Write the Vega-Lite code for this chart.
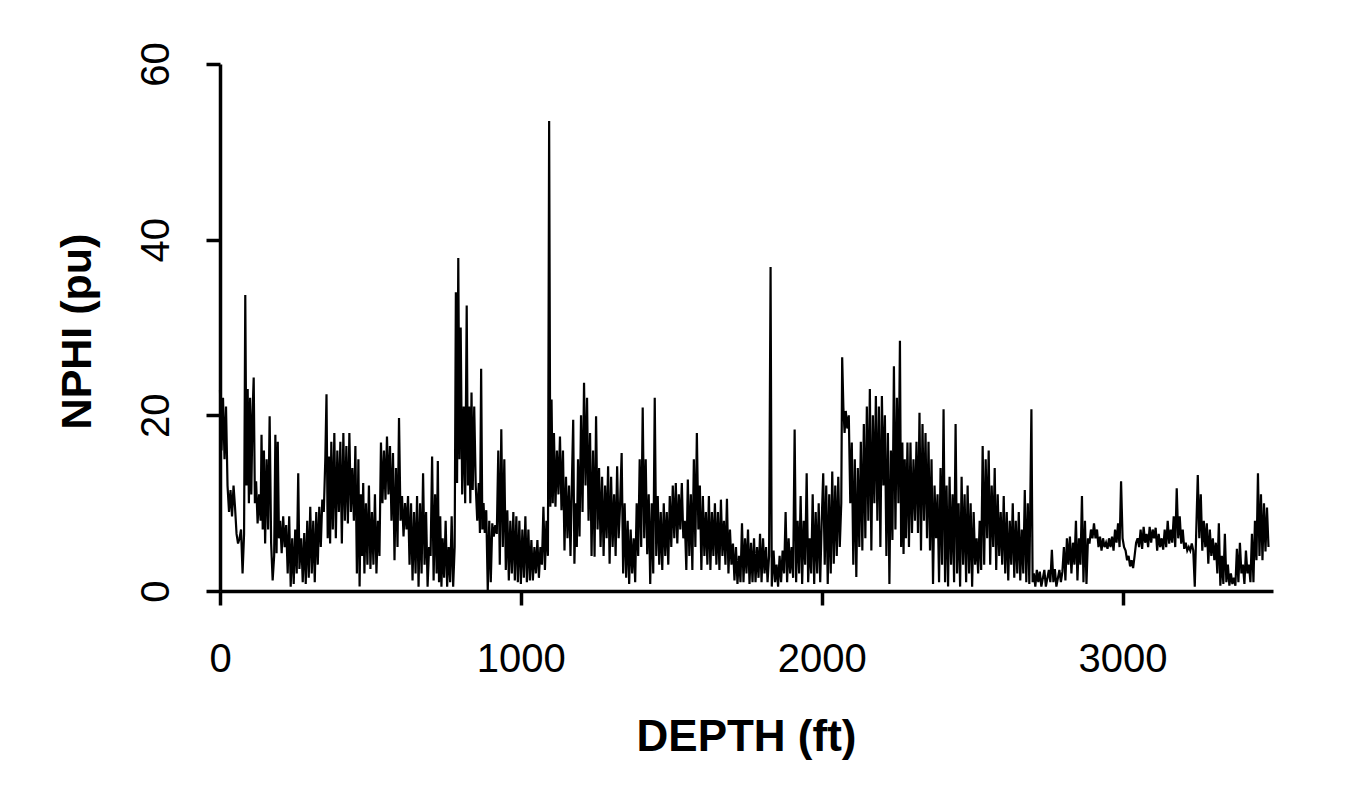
{
  "$schema": "https://vega.github.io/schema/vega-lite/v6.json",
  "autosize": "none",
  "width": 1053,
  "height": 527,
  "padding": {"left": 220, "top": 64, "right": 81, "bottom": 212},
  "background": "white",
  "config": {
    "view": {"stroke": null},
    "font": "Liberation Sans",
    "axis": {
      "grid": false,
      "domainColor": "black",
      "domainWidth": 3.5,
      "tickColor": "black",
      "tickWidth": 3.5,
      "tickSize": 14,
      "labelColor": "black",
      "labelFont": "Liberation Sans",
      "labelFontSize": 40,
      "labelFontWeight": "normal",
      "labelOverlap": false,
      "labelFlush": false,
      "format": "d",
      "titleColor": "black",
      "titleFont": "Liberation Sans",
      "titleFontWeight": "bold"
    }
  },
  "data": {"values": [
{"d":0,"n":22.9},{"d":5,"n":16},{"d":10,"n":22},{"d":15,"n":15},{"d":20,"n":21},{"d":25,"n":12},{"d":30,"n":9},{"d":35,"n":11.5},{"d":40,"n":8.5},{"d":45,"n":12},{"d":50,"n":9.5},{"d":55,"n":6.5},{"d":60,"n":5.4},{"d":65,"n":6},{"d":70,"n":7},{"d":75,"n":2},{"d":80,"n":6.5},{"d":84,"n":33.7},{"d":88,"n":12},{"d":92,"n":23},{"d":96,"n":10},{"d":100,"n":22},{"d":104,"n":11},{"d":108,"n":20},{"d":112,"n":24.3},{"d":116,"n":10},{"d":120,"n":12.5},{"d":125,"n":7.7},{"d":130,"n":11},{"d":135,"n":8},{"d":138,"n":17.8},{"d":142,"n":7},{"d":146,"n":16},{"d":150,"n":5.4},{"d":155,"n":15},{"d":160,"n":7},{"d":165,"n":19.9},{"d":170,"n":5.4},{"d":175,"n":1.2},{"d":180,"n":4},{"d":184,"n":17.8},{"d":188,"n":4.3},{"d":192,"n":17},{"d":196,"n":6},{"d":200,"n":8},{"d":205,"n":4.3},{"d":210,"n":8.5},{"d":215,"n":5},{"d":220,"n":7.5},{"d":225,"n":2},{"d":230,"n":8.5},{"d":235,"n":0.5},{"d":240,"n":6},{"d":245,"n":0.8},{"d":250,"n":7},{"d":255,"n":2},{"d":260,"n":13.4},{"d":264,"n":2.5},{"d":270,"n":6},{"d":275,"n":1},{"d":280,"n":6.6},{"d":285,"n":0.8},{"d":290,"n":8},{"d":295,"n":1.5},{"d":300,"n":9.6},{"d":305,"n":2},{"d":310,"n":8},{"d":315,"n":1},{"d":320,"n":9},{"d":325,"n":3},{"d":330,"n":9.6},{"d":335,"n":5},{"d":340,"n":10.4},{"d":345,"n":9},{"d":350,"n":15},{"d":354,"n":22.4},{"d":358,"n":6},{"d":362,"n":15.3},{"d":366,"n":5.4},{"d":370,"n":17},{"d":375,"n":7},{"d":380,"n":18},{"d":385,"n":6},{"d":390,"n":16},{"d":395,"n":9},{"d":400,"n":17},{"d":405,"n":5.4},{"d":410,"n":18},{"d":415,"n":8},{"d":420,"n":16.5},{"d":425,"n":7.7},{"d":430,"n":18},{"d":435,"n":9},{"d":440,"n":14},{"d":445,"n":8},{"d":450,"n":16.5},{"d":455,"n":2},{"d":460,"n":15},{"d":464,"n":0.5},{"d":468,"n":11},{"d":472,"n":4},{"d":476,"n":12.3},{"d":480,"n":2},{"d":485,"n":10},{"d":490,"n":3},{"d":495,"n":12},{"d":500,"n":2.5},{"d":505,"n":9},{"d":510,"n":3},{"d":515,"n":11},{"d":520,"n":2},{"d":525,"n":8},{"d":530,"n":4},{"d":535,"n":16.9},{"d":540,"n":10},{"d":545,"n":16},{"d":550,"n":10.4},{"d":555,"n":17.6},{"d":560,"n":11},{"d":565,"n":16.5},{"d":570,"n":8},{"d":575,"n":15.7},{"d":580,"n":3.5},{"d":585,"n":14},{"d":590,"n":5},{"d":595,"n":19.7},{"d":600,"n":8},{"d":605,"n":10.8},{"d":610,"n":6.2},{"d":615,"n":10},{"d":620,"n":7},{"d":625,"n":10.8},{"d":630,"n":3},{"d":635,"n":10},{"d":640,"n":1.2},{"d":645,"n":9},{"d":650,"n":2},{"d":655,"n":10.8},{"d":660,"n":0.5},{"d":665,"n":10},{"d":670,"n":2},{"d":675,"n":13.4},{"d":680,"n":3},{"d":685,"n":9},{"d":690,"n":0.5},{"d":695,"n":5},{"d":700,"n":4},{"d":705,"n":15.3},{"d":710,"n":1.2},{"d":715,"n":11},{"d":720,"n":2},{"d":724,"n":14.8},{"d":728,"n":1},{"d":732,"n":8.5},{"d":736,"n":0.5},{"d":740,"n":6},{"d":745,"n":1.5},{"d":750,"n":8},{"d":755,"n":0.5},{"d":760,"n":5},{"d":765,"n":1},{"d":770,"n":8.5},{"d":775,"n":0.5},{"d":780,"n":5},{"d":784,"n":34},{"d":788,"n":12.3},{"d":792,"n":37.9},{"d":796,"n":15},{"d":800,"n":30},{"d":805,"n":11},{"d":810,"n":21},{"d":815,"n":10},{"d":820,"n":32.5},{"d":824,"n":12},{"d":828,"n":21},{"d":832,"n":10},{"d":836,"n":22.6},{"d":840,"n":11.5},{"d":845,"n":21},{"d":850,"n":12},{"d":855,"n":8},{"d":860,"n":12.3},{"d":864,"n":6.6},{"d":868,"n":25.3},{"d":872,"n":7},{"d":876,"n":10},{"d":880,"n":6.6},{"d":885,"n":9.2},{"d":890,"n":0},{"d":895,"n":8},{"d":900,"n":1},{"d":905,"n":7.7},{"d":910,"n":6.2},{"d":915,"n":7.5},{"d":920,"n":6.5},{"d":925,"n":16},{"d":930,"n":3},{"d":935,"n":18.4},{"d":940,"n":5},{"d":945,"n":15},{"d":950,"n":2.4},{"d":955,"n":9.2},{"d":960,"n":1.2},{"d":965,"n":8},{"d":970,"n":2},{"d":975,"n":9},{"d":980,"n":1.2},{"d":985,"n":8.5},{"d":990,"n":1},{"d":995,"n":8},{"d":1000,"n":0.8},{"d":1005,"n":7},{"d":1010,"n":1.5},{"d":1015,"n":8.5},{"d":1020,"n":1},{"d":1025,"n":7},{"d":1030,"n":1.2},{"d":1035,"n":5.8},{"d":1040,"n":1.2},{"d":1045,"n":5},{"d":1050,"n":2},{"d":1055,"n":5.8},{"d":1060,"n":1.5},{"d":1065,"n":5},{"d":1070,"n":3},{"d":1075,"n":9.6},{"d":1080,"n":2.4},{"d":1085,"n":8},{"d":1090,"n":4},{"d":1094,"n":53.5},{"d":1098,"n":9.6},{"d":1102,"n":21.8},{"d":1106,"n":10},{"d":1110,"n":18},{"d":1115,"n":9.6},{"d":1120,"n":16},{"d":1125,"n":11},{"d":1130,"n":17.6},{"d":1135,"n":9.2},{"d":1140,"n":16},{"d":1145,"n":4.6},{"d":1150,"n":13},{"d":1155,"n":6},{"d":1160,"n":12},{"d":1165,"n":4},{"d":1170,"n":13},{"d":1174,"n":19.5},{"d":1178,"n":3.1},{"d":1182,"n":10},{"d":1186,"n":5},{"d":1190,"n":15},{"d":1195,"n":6.2},{"d":1200,"n":20},{"d":1205,"n":9},{"d":1210,"n":23.7},{"d":1215,"n":12},{"d":1220,"n":22},{"d":1225,"n":8},{"d":1230,"n":18},{"d":1235,"n":4},{"d":1240,"n":16},{"d":1245,"n":3.9},{"d":1250,"n":19.9},{"d":1255,"n":7},{"d":1260,"n":14},{"d":1265,"n":5},{"d":1270,"n":13},{"d":1275,"n":4},{"d":1280,"n":12},{"d":1285,"n":6},{"d":1290,"n":14.2},{"d":1295,"n":3.1},{"d":1300,"n":13},{"d":1305,"n":5},{"d":1310,"n":11},{"d":1315,"n":4},{"d":1320,"n":14.2},{"d":1325,"n":6},{"d":1330,"n":10},{"d":1335,"n":15.7},{"d":1340,"n":2},{"d":1345,"n":10},{"d":1350,"n":1.5},{"d":1355,"n":8},{"d":1360,"n":0.8},{"d":1365,"n":7},{"d":1370,"n":2},{"d":1375,"n":6},{"d":1380,"n":1},{"d":1385,"n":10},{"d":1390,"n":4},{"d":1395,"n":15},{"d":1400,"n":5},{"d":1405,"n":20.9},{"d":1410,"n":6},{"d":1415,"n":15},{"d":1420,"n":4.2},{"d":1425,"n":11},{"d":1430,"n":0.8},{"d":1435,"n":10},{"d":1440,"n":2},{"d":1445,"n":22},{"d":1450,"n":4},{"d":1455,"n":10.8},{"d":1460,"n":3},{"d":1465,"n":9},{"d":1470,"n":2.4},{"d":1475,"n":10},{"d":1480,"n":4},{"d":1485,"n":9},{"d":1490,"n":3},{"d":1495,"n":10.8},{"d":1500,"n":5},{"d":1505,"n":12},{"d":1510,"n":6},{"d":1515,"n":12.3},{"d":1520,"n":5.4},{"d":1525,"n":11},{"d":1530,"n":7},{"d":1535,"n":12.3},{"d":1540,"n":6},{"d":1545,"n":8},{"d":1550,"n":2.4},{"d":1555,"n":12.7},{"d":1560,"n":4},{"d":1565,"n":11},{"d":1570,"n":2.4},{"d":1575,"n":15},{"d":1580,"n":5},{"d":1585,"n":18},{"d":1590,"n":7},{"d":1595,"n":12},{"d":1600,"n":2.4},{"d":1605,"n":10.8},{"d":1610,"n":4},{"d":1615,"n":9},{"d":1620,"n":3},{"d":1625,"n":10.8},{"d":1630,"n":2.4},{"d":1635,"n":9},{"d":1640,"n":4},{"d":1645,"n":10},{"d":1650,"n":3},{"d":1655,"n":9},{"d":1660,"n":2.4},{"d":1665,"n":10.4},{"d":1670,"n":4},{"d":1675,"n":8},{"d":1680,"n":3},{"d":1685,"n":10.5},{"d":1690,"n":2},{"d":1695,"n":7},{"d":1700,"n":3},{"d":1705,"n":5.4},{"d":1710,"n":1.2},{"d":1715,"n":5},{"d":1720,"n":0.8},{"d":1725,"n":4},{"d":1730,"n":1},{"d":1735,"n":7.7},{"d":1740,"n":1},{"d":1745,"n":6},{"d":1750,"n":2},{"d":1755,"n":7},{"d":1760,"n":0.8},{"d":1765,"n":5.5},{"d":1770,"n":1},{"d":1775,"n":6},{"d":1780,"n":1},{"d":1785,"n":5},{"d":1790,"n":1.5},{"d":1795,"n":6.5},{"d":1800,"n":1},{"d":1805,"n":6},{"d":1810,"n":2},{"d":1815,"n":5},{"d":1820,"n":1},{"d":1825,"n":4},{"d":1830,"n":36.9},{"d":1834,"n":0.5},{"d":1840,"n":4.6},{"d":1845,"n":1},{"d":1850,"n":3},{"d":1855,"n":0.5},{"d":1860,"n":4},{"d":1865,"n":1},{"d":1870,"n":4.6},{"d":1875,"n":2},{"d":1880,"n":9},{"d":1885,"n":1},{"d":1890,"n":6},{"d":1895,"n":2},{"d":1900,"n":5},{"d":1905,"n":1.5},{"d":1910,"n":18.4},{"d":1915,"n":1},{"d":1920,"n":8},{"d":1925,"n":2},{"d":1930,"n":10.8},{"d":1935,"n":0.8},{"d":1940,"n":8},{"d":1945,"n":3},{"d":1950,"n":13.4},{"d":1955,"n":1},{"d":1960,"n":6},{"d":1965,"n":2},{"d":1970,"n":11},{"d":1975,"n":0.8},{"d":1980,"n":9},{"d":1985,"n":2},{"d":1990,"n":10},{"d":1995,"n":1},{"d":2000,"n":8},{"d":2005,"n":13.4},{"d":2010,"n":3},{"d":2015,"n":12},{"d":2020,"n":0.8},{"d":2025,"n":11},{"d":2030,"n":2},{"d":2035,"n":13.6},{"d":2040,"n":3.1},{"d":2045,"n":12},{"d":2050,"n":4},{"d":2055,"n":13},{"d":2060,"n":5},{"d":2065,"n":10},{"d":2068,"n":26.6},{"d":2072,"n":20.9},{"d":2076,"n":18},{"d":2080,"n":20.5},{"d":2085,"n":18.5},{"d":2090,"n":20},{"d":2095,"n":10},{"d":2100,"n":16.9},{"d":2105,"n":3},{"d":2110,"n":15},{"d":2115,"n":1.6},{"d":2120,"n":14},{"d":2125,"n":5},{"d":2130,"n":17},{"d":2135,"n":4.6},{"d":2140,"n":19},{"d":2145,"n":6},{"d":2150,"n":21},{"d":2155,"n":8},{"d":2160,"n":23},{"d":2165,"n":4.6},{"d":2170,"n":20},{"d":2175,"n":10},{"d":2180,"n":22.2},{"d":2185,"n":8},{"d":2190,"n":21},{"d":2195,"n":5},{"d":2200,"n":22.2},{"d":2205,"n":12},{"d":2210,"n":20},{"d":2215,"n":4},{"d":2220,"n":18},{"d":2225,"n":0.8},{"d":2230,"n":16},{"d":2235,"n":5.8},{"d":2240,"n":25.6},{"d":2245,"n":7},{"d":2250,"n":22},{"d":2255,"n":10},{"d":2260,"n":28.5},{"d":2264,"n":5},{"d":2268,"n":16.9},{"d":2272,"n":4.2},{"d":2276,"n":15},{"d":2280,"n":6},{"d":2285,"n":16.9},{"d":2290,"n":5},{"d":2295,"n":16.9},{"d":2300,"n":6.6},{"d":2305,"n":15},{"d":2310,"n":8},{"d":2315,"n":17},{"d":2320,"n":6.6},{"d":2325,"n":20.3},{"d":2330,"n":4.6},{"d":2335,"n":19},{"d":2340,"n":8},{"d":2345,"n":18},{"d":2350,"n":6},{"d":2355,"n":17},{"d":2360,"n":4.6},{"d":2365,"n":15},{"d":2370,"n":0.8},{"d":2375,"n":12},{"d":2380,"n":6},{"d":2385,"n":11},{"d":2390,"n":1},{"d":2395,"n":14},{"d":2400,"n":3},{"d":2405,"n":20.7},{"d":2410,"n":1},{"d":2415,"n":12},{"d":2420,"n":0.5},{"d":2425,"n":13},{"d":2430,"n":3},{"d":2435,"n":11},{"d":2440,"n":1},{"d":2445,"n":19},{"d":2450,"n":2},{"d":2455,"n":10},{"d":2460,"n":0.5},{"d":2465,"n":13},{"d":2470,"n":3},{"d":2475,"n":11},{"d":2480,"n":1},{"d":2485,"n":12},{"d":2490,"n":2},{"d":2495,"n":10},{"d":2500,"n":0.5},{"d":2505,"n":9},{"d":2510,"n":3},{"d":2515,"n":6},{"d":2520,"n":2},{"d":2525,"n":8},{"d":2530,"n":2.4},{"d":2535,"n":16.5},{"d":2540,"n":3},{"d":2545,"n":15},{"d":2550,"n":6},{"d":2555,"n":16},{"d":2560,"n":3},{"d":2565,"n":12},{"d":2570,"n":5},{"d":2575,"n":14},{"d":2580,"n":2.4},{"d":2585,"n":11},{"d":2590,"n":4},{"d":2595,"n":9},{"d":2600,"n":3},{"d":2605,"n":10.8},{"d":2610,"n":2},{"d":2615,"n":9},{"d":2620,"n":1.2},{"d":2625,"n":8},{"d":2630,"n":3},{"d":2635,"n":10},{"d":2640,"n":1.5},{"d":2645,"n":8},{"d":2650,"n":2},{"d":2655,"n":9},{"d":2660,"n":1.2},{"d":2665,"n":7},{"d":2670,"n":2},{"d":2675,"n":11.5},{"d":2680,"n":1},{"d":2685,"n":10},{"d":2690,"n":0.8},{"d":2697,"n":20.7},{"d":2701,"n":1},{"d":2705,"n":2},{"d":2710,"n":0.5},{"d":2715,"n":2.4},{"d":2720,"n":1},{"d":2725,"n":2.2},{"d":2730,"n":0.5},{"d":2740,"n":2.4},{"d":2745,"n":0.5},{"d":2755,"n":2.4},{"d":2760,"n":1},{"d":2765,"n":4.7},{"d":2770,"n":1},{"d":2775,"n":2.5},{"d":2780,"n":0.5},{"d":2790,"n":2.4},{"d":2795,"n":1},{"d":2800,"n":2.2},{"d":2805,"n":5},{"d":2810,"n":1.2},{"d":2815,"n":6},{"d":2820,"n":3},{"d":2825,"n":6.2},{"d":2830,"n":2},{"d":2835,"n":5.5},{"d":2840,"n":3},{"d":2845,"n":8},{"d":2850,"n":1.2},{"d":2855,"n":6},{"d":2860,"n":3},{"d":2865,"n":10.8},{"d":2870,"n":1},{"d":2875,"n":8},{"d":2880,"n":0.8},{"d":2885,"n":6},{"d":2890,"n":5.4},{"d":2895,"n":7},{"d":2900,"n":6},{"d":2905,"n":7.7},{"d":2910,"n":6},{"d":2915,"n":7},{"d":2920,"n":5},{"d":2925,"n":6.2},{"d":2930,"n":4.6},{"d":2935,"n":6},{"d":2940,"n":5},{"d":2945,"n":5.5},{"d":2950,"n":4.8},{"d":2955,"n":6},{"d":2960,"n":5},{"d":2965,"n":6.2},{"d":2970,"n":4.6},{"d":2975,"n":7},{"d":2980,"n":5.5},{"d":2985,"n":7.7},{"d":2990,"n":5},{"d":2995,"n":12.5},{"d":3000,"n":6},{"d":3005,"n":5},{"d":3010,"n":4.6},{"d":3015,"n":3.5},{"d":3020,"n":4},{"d":3025,"n":2.8},{"d":3030,"n":3.5},{"d":3035,"n":2.6},{"d":3040,"n":4},{"d":3045,"n":5.5},{"d":3050,"n":6},{"d":3055,"n":5},{"d":3060,"n":7},{"d":3065,"n":4.8},{"d":3070,"n":7.3},{"d":3075,"n":5.5},{"d":3080,"n":6.5},{"d":3085,"n":5},{"d":3090,"n":7.3},{"d":3095,"n":5.5},{"d":3100,"n":7},{"d":3105,"n":6},{"d":3110,"n":7.2},{"d":3115,"n":4.6},{"d":3120,"n":6.5},{"d":3125,"n":5},{"d":3130,"n":6},{"d":3135,"n":4.7},{"d":3140,"n":7},{"d":3145,"n":5},{"d":3150,"n":8},{"d":3155,"n":5.4},{"d":3160,"n":7},{"d":3165,"n":5.5},{"d":3170,"n":8.5},{"d":3175,"n":5},{"d":3180,"n":11.7},{"d":3185,"n":6},{"d":3190,"n":8.5},{"d":3195,"n":5.4},{"d":3200,"n":7},{"d":3205,"n":4.8},{"d":3210,"n":5.5},{"d":3215,"n":4.6},{"d":3220,"n":5},{"d":3225,"n":4.6},{"d":3230,"n":5.4},{"d":3235,"n":4.6},{"d":3240,"n":0.5},{"d":3245,"n":7},{"d":3250,"n":13.2},{"d":3255,"n":6},{"d":3260,"n":11},{"d":3265,"n":4.6},{"d":3270,"n":8},{"d":3275,"n":5},{"d":3280,"n":7.7},{"d":3285,"n":3.1},{"d":3290,"n":7},{"d":3295,"n":4},{"d":3300,"n":6},{"d":3305,"n":3.5},{"d":3310,"n":5.5},{"d":3315,"n":2},{"d":3320,"n":7.7},{"d":3325,"n":0.6},{"d":3330,"n":4},{"d":3335,"n":0.8},{"d":3340,"n":6.5},{"d":3345,"n":1},{"d":3350,"n":3},{"d":3355,"n":0.6},{"d":3360,"n":2},{"d":3365,"n":0.8},{"d":3370,"n":1.5},{"d":3375,"n":0.6},{"d":3380,"n":4.8},{"d":3385,"n":1},{"d":3390,"n":5.5},{"d":3395,"n":2},{"d":3400,"n":3},{"d":3405,"n":0.8},{"d":3410,"n":4.6},{"d":3415,"n":2},{"d":3420,"n":3},{"d":3425,"n":1},{"d":3430,"n":6.5},{"d":3435,"n":1},{"d":3440,"n":8},{"d":3445,"n":3.5},{"d":3450,"n":13.4},{"d":3455,"n":4},{"d":3460,"n":11},{"d":3465,"n":3.5},{"d":3470,"n":10},{"d":3475,"n":4.5},{"d":3480,"n":9.5},{"d":3485,"n":5}
  ]},
  "mark": {"type": "line", "color": "black", "strokeWidth": 2.2, "interpolate": "linear"},
  "encoding": {
    "x": {
      "field": "d", "type": "quantitative",
      "scale": {"domain": [0, 3500], "nice": false, "zero": false},
      "axis": {
        "title": "DEPTH (ft)",
        "values": [0, 1000, 2000, 3000],
        "labelPadding": 66,
        "labelBaseline": "alphabetic",
        "titleFontSize": 44,
        "titleBaseline": "alphabetic",
        "titleY": 159,
        "titleX": 526
      }
    },
    "y": {
      "field": "n", "type": "quantitative",
      "scale": {"domain": [0, 60], "nice": false},
      "axis": {
        "title": "NPHI (pu)",
        "values": [0, 20, 40, 60],
        "labelAngle": -90,
        "labelAlign": "center",
        "labelBaseline": "alphabetic",
        "labelPadding": 38,
        "titleFontSize": 43,
        "titleAngle": -90,
        "titleBaseline": "alphabetic",
        "titleAlign": "center",
        "titleX": -130,
        "titleY": 267
      }
    }
  }
}
